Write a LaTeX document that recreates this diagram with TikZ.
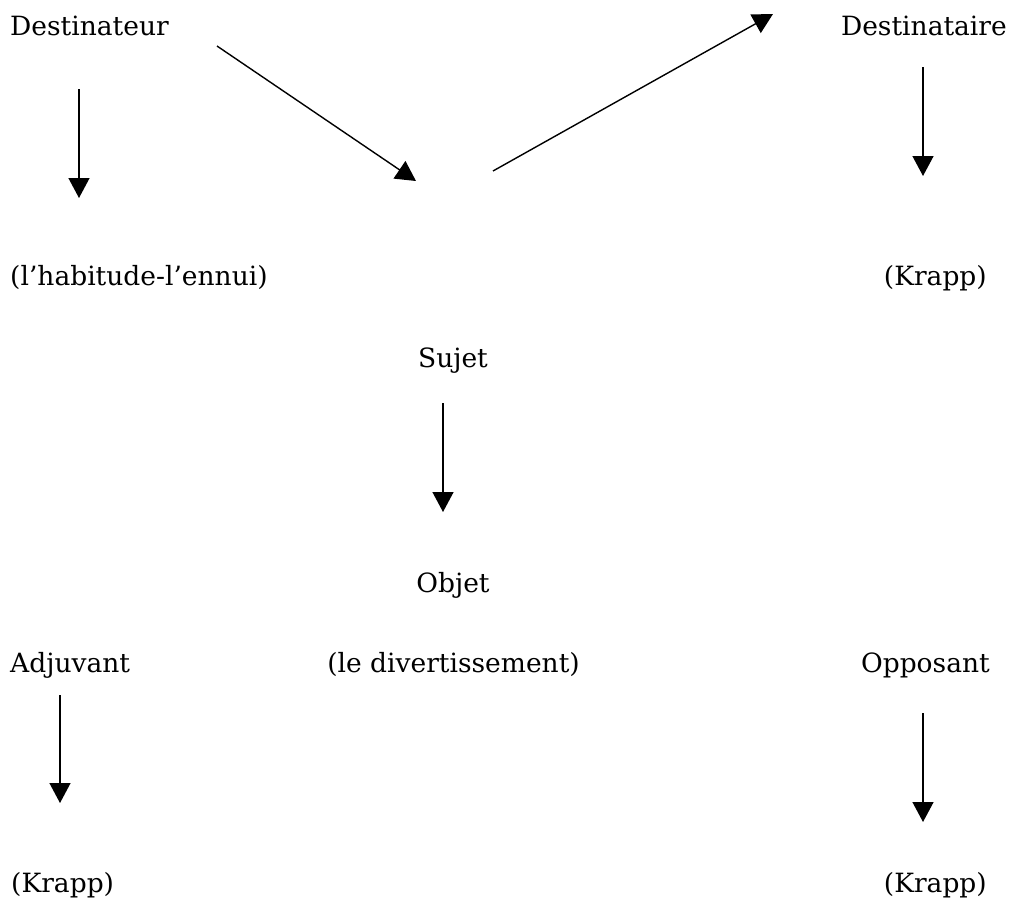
\documentclass[tikz,border=0pt]{standalone}
\usepackage{fontspec}
\setmainfont{DejaVu Serif}
\usetikzlibrary{arrows.meta}
\tikzset{
  lbl/.style={inner sep=0pt, font=\fontsize{26.5}{32}\selectfont},
  lleft/.style={lbl, anchor=base west},
  lright/.style={lbl, anchor=base east},
  lmid/.style={lbl, anchor=base},
  actarrow/.style={line width=1.4pt, -{Triangle[width=21pt,length=20pt]}}
}
\begin{document}
\begin{tikzpicture}[x=1pt,y=-1pt]
\useasboundingbox (0,0) rectangle (1011,905);
% actants and their values
\node[lleft]  (dtr) at (10,35)   {Destinateur};
\node[lright] (dta) at (1007,35) {Destinataire};
\node[lleft]  (hab) at (10,285)  {(l’habitude-l’ennui)};
\node[lright] (kr1) at (987,285) {(Krapp)};
\node[lmid]   (suj) at (453,367) {Sujet};
\node[lmid]   (obj) at (453,592) {Objet};
\node[lleft]  (adj) at (10,672)  {Adjuvant};
\node[lright] (div) at (580,672) {(le divertissement)};
\node[lright] (opp) at (990,672) {Opposant};
\node[lleft]  (kr2) at (11,892)  {(Krapp)};
\node[lright] (kr3) at (987,892) {(Krapp)};
% arrow end points
\coordinate (a1s) at (79,89);   \coordinate (a1e) at (79,198);
\coordinate (a2s) at (217,46);  \coordinate (a2e) at (416,181);
\coordinate (a3s) at (493,171); \coordinate (a3e) at (773,14);
\coordinate (a4s) at (923,67);  \coordinate (a4e) at (923,176);
\coordinate (a5s) at (443,403); \coordinate (a5e) at (443,512);
\coordinate (a6s) at (60,695);  \coordinate (a6e) at (60,803);
\coordinate (a7s) at (923,713); \coordinate (a7e) at (923,822);
\draw[actarrow] (a1s) -- (a1e);
\draw[actarrow] (a2s) -- (a2e);
\draw[actarrow] (a3s) -- (a3e);
\draw[actarrow] (a4s) -- (a4e);
\draw[actarrow] (a5s) -- (a5e);
\draw[actarrow] (a6s) -- (a6e);
\draw[actarrow] (a7s) -- (a7e);
\end{tikzpicture}
\end{document}
